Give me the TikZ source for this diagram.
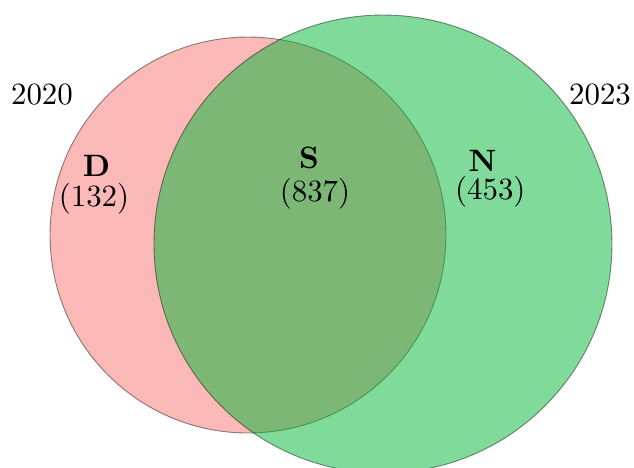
\documentclass[tikz,border=0pt]{standalone}
\definecolor{vennred}{RGB}{245,115,111}
\definecolor{venngreen}{RGB}{1,183,55}
\begin{document}
\begin{tikzpicture}[x=0.33pt,y=-0.33pt,
  setcircle/.style={draw=black,opacity=0.45,line width=0.3pt},
  lbl/.style={anchor=base,inner sep=0pt,font=\fontsize{10.2}{12}\selectfont}]
\useasboundingbox (0,0) rectangle (634,467);
\begin{scope}
\clip (0,0) rectangle (634,467);
\fill[vennred,opacity=0.5] (248,235) circle[radius=65.34pt];
\draw[setcircle] (248,235) circle[radius=65.34pt];
\fill[venngreen,opacity=0.5] (383,244) circle[radius=75.57pt];
\draw[setcircle] (383,244) circle[radius=75.57pt];
\end{scope}
\node[lbl] (y20) at (42,104.3) {2020};
\node[lbl] (y23) at (600,104.3) {2023};
\node[lbl] (dl) at (96.5,176) {\textbf{D}};
\node[lbl] (dn) at (94,206) {(132)};
\node[lbl] (sl) at (309,168.3) {\textbf{S}};
\node[lbl] (sn) at (315,201.7) {(837)};
\node[lbl] (nl) at (482.5,171) {\textbf{N}};
\node[lbl] (nn) at (490.3,199.3) {(453)};
\end{tikzpicture}
\end{document}
